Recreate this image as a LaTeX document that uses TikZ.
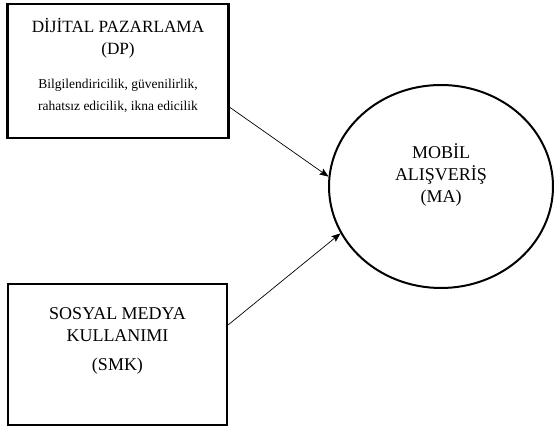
\documentclass[tikz,border=0pt]{standalone}
\usepackage{fontspec}
\setmainfont{Liberation Serif}
\usetikzlibrary{shapes.geometric,arrows.meta}
\begin{document}
\begin{tikzpicture}[x=1pt, y=-1pt,
	box/.style={draw, line width=2.5pt, align=center, inner sep=0pt},
	big/.style={font=\fontsize{18}{22}\selectfont},
	ok/.style={-{Stealth[length=9pt, width=7pt, inset=1.5pt]}, line width=0.7pt}]
	\useasboundingbox (0, 0) rectangle (554, 427);
	\node[box, font=\fontsize{17.2}{22.5}\selectfont, minimum width=221pt, minimum height=134pt, text depth=13pt] (dp) at (118, 71)
		{DİJİTAL PAZARLAMA\\(DP)\\[11pt]{\fontsize{13.5}{19}\selectfont Bilgilendiricilik, güvenilirlik,}\\{\fontsize{13.5}{19}\selectfont rahatsız edicilik, ikna edicilik}};
	\node[box, big, minimum width=219pt, minimum height=141pt, text depth=30pt] (smk) at (117.5, 354.5)
		{SOSYAL MEDYA\\KULLANIMI\\[7pt](SMK)};
	\node[ellipse, draw, line width=2pt, big, align=center, minimum width=224pt, minimum height=203pt, text depth=26pt] (ma) at (441, 186.5)
		{MOBİL\\ALIŞVERİŞ\\(MA)};
	\draw[ok] (dp.-18) -- (ma.175);
	\draw[ok] (smk.15) -- (ma.205);
\end{tikzpicture}
\end{document}
